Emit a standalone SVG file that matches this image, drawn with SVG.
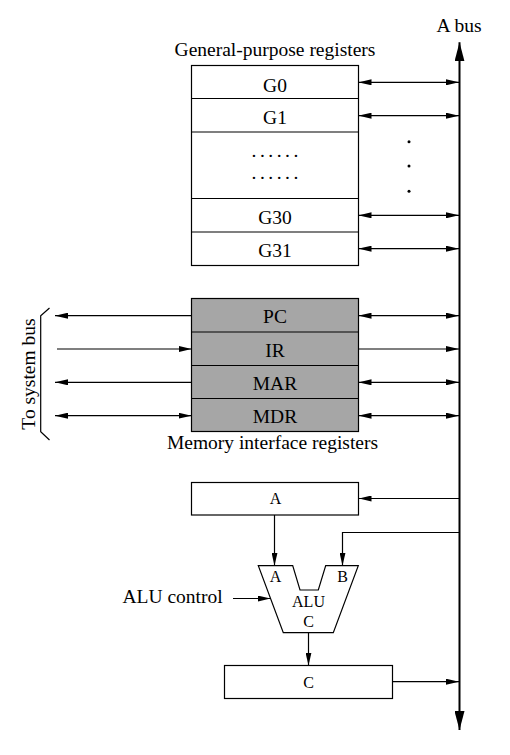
<svg xmlns="http://www.w3.org/2000/svg" width="510" height="755" viewBox="0 0 510 755">
<style>
text{font-family:"Liberation Serif","Times New Roman",serif;fill:#000}
.l{font-size:19.5px}
.s{font-size:16px}
.m{text-anchor:middle}
.box{fill:#fff;stroke:#000;stroke-width:1.2}
.gbox{fill:#a6a6a6;stroke:#000;stroke-width:1.2}
.ln{fill:none;stroke:#000;stroke-width:1.2}
.ar{marker-end:url(#ah)}
.dar{marker-start:url(#ah);marker-end:url(#ah)}
</style>
<defs>
<marker id="ah" viewBox="0 0 13 6" refX="13" refY="3" markerWidth="13" markerHeight="6" markerUnits="userSpaceOnUse" orient="auto-start-reverse">
<path d="M0,0 L13,3 L0,6 z" fill="#000"/>
</marker>
<marker id="bh" viewBox="0 0 19 10" refX="19" refY="5" markerWidth="19" markerHeight="10" markerUnits="userSpaceOnUse" orient="auto-start-reverse">
<path d="M0,0 L19,5 L0,10 z" fill="#000"/>
</marker>
</defs>

<g id="abus">
<line x1="459.5" y1="42.3" x2="459.5" y2="730" stroke="#000" stroke-width="2" marker-start="url(#bh)" marker-end="url(#bh)"/>
<text class="l m" x="459" y="31.5">A bus</text>
</g>

<g id="gp-registers">
<text class="l m" x="275" y="55.5">General-purpose registers</text>
<rect class="box" x="191.5" y="65.5" width="167" height="200"/>
<line class="ln" x1="191.5" y1="98.5" x2="358.5" y2="98.5"/>
<line class="ln" x1="191.5" y1="132" x2="358.5" y2="132"/>
<line class="ln" x1="191.5" y1="198.5" x2="358.5" y2="198.5"/>
<line class="ln" x1="191.5" y1="232" x2="358.5" y2="232"/>
<text class="l m" x="275" y="91.5">G0</text>
<text class="l m" x="275" y="123.5">G1</text>
<text class="l" x="251.6" y="157" letter-spacing="3.5">......</text>
<text class="l" x="251.6" y="179" letter-spacing="3.5">......</text>
<text class="l m" x="275" y="223.5">G30</text>
<text class="l m" x="275" y="256.5">G31</text>
</g>

<g id="vdots" fill="#000">
<circle cx="409" cy="141.7" r="1.5"/>
<circle cx="409" cy="166" r="1.5"/>
<circle cx="409" cy="191.3" r="1.5"/>
</g>

<g id="mem-registers">
<rect class="gbox" x="191.5" y="298.5" width="167" height="133"/>
<line class="ln" x1="191.5" y1="332" x2="358.5" y2="332"/>
<line class="ln" x1="191.5" y1="365.5" x2="358.5" y2="365.5"/>
<line class="ln" x1="191.5" y1="398.5" x2="358.5" y2="398.5"/>
<text class="l m" x="275" y="323.3">PC</text>
<text class="l m" x="275" y="356.7">IR</text>
<text class="l m" x="275" y="390">MAR</text>
<text class="l m" x="275" y="423.3">MDR</text>
<text class="l m" x="272.5" y="449">Memory interface registers</text>
</g>

<g id="system-bus">
<path class="ln" d="M49.5,308 L40.7,315.7 L40.7,431.7 L49.5,440"/>
<text class="l m" transform="translate(35,374) rotate(-90)">To system bus</text>
</g>

<g id="reg-a">
<rect class="box" x="191.5" y="482.5" width="167" height="32.5"/>
<text class="s m" x="275.5" y="503.5">A</text>
</g>

<g id="alu">
<polygon class="ln" points="258.3,565.7 292.7,565.7 300,590 318.3,590 325.7,565.7 358.3,565.7 333.3,632.7 283.3,632.7"/>
<text class="s m" x="275.5" y="581.7">A</text>
<text class="s m" x="342.5" y="581.7">B</text>
<text class="s m" x="308.5" y="606.7">ALU</text>
<text class="s m" x="308.5" y="626.7">C</text>
<text class="l" x="122.5" y="603.3">ALU control</text>
</g>

<g id="reg-c">
<rect class="box" x="224.5" y="665.5" width="168" height="33"/>
<text class="s m" x="308.5" y="688.3">C</text>
</g>

<g id="connectors">
<line class="ln dar" x1="358.5" y1="82.3" x2="459" y2="82.3"/>
<line class="ln dar" x1="358.5" y1="115.7" x2="459" y2="115.7"/>
<line class="ln dar" x1="358.5" y1="215.3" x2="459" y2="215.3"/>
<line class="ln dar" x1="358.5" y1="248.7" x2="459" y2="248.7"/>
<line class="ln dar" x1="358.5" y1="315.7" x2="459" y2="315.7"/>
<line class="ln ar" x1="358.5" y1="349" x2="459" y2="349"/>
<line class="ln dar" x1="358.5" y1="382.3" x2="459" y2="382.3"/>
<line class="ln dar" x1="358.5" y1="415.7" x2="459" y2="415.7"/>
<line class="ln ar" x1="191.5" y1="315.7" x2="55" y2="315.7"/>
<line class="ln ar" x1="57" y1="349" x2="191.5" y2="349"/>
<line class="ln ar" x1="191.5" y1="382.3" x2="55" y2="382.3"/>
<line class="ln dar" x1="55" y1="415.7" x2="191.5" y2="415.7"/>
<line class="ln ar" x1="459" y1="498.5" x2="358.5" y2="498.5"/>
<line class="ln ar" x1="274.5" y1="515" x2="274.5" y2="565.7"/>
<polyline class="ln ar" points="459,532.5 342.5,532.5 342.5,565.7"/>
<line class="ln ar" x1="233" y1="598.5" x2="270.5" y2="598.5"/>
<line class="ln ar" x1="308.5" y1="632.7" x2="308.5" y2="665.5"/>
<line class="ln ar" x1="392.5" y1="681.7" x2="459" y2="681.7"/>
</g>
</svg>
